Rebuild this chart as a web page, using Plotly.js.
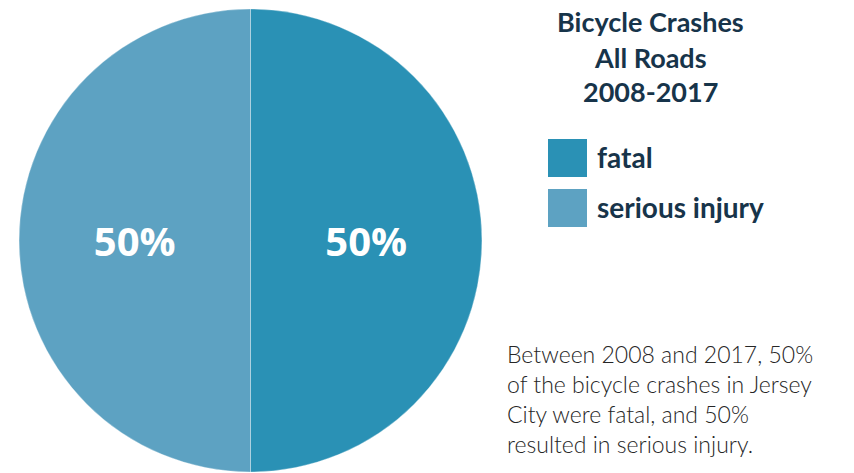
<!DOCTYPE html>
<html>
<head>
<meta charset="utf-8">
<script src="https://cdn.plot.ly/plotly-3.0.1.min.js"></script>
<style>html,body{margin:0;padding:0;background:#fff;}#chart{width:854px;height:473px;}</style>
</head>
<body>
<div id="chart"></div>
<script>
const categories = ['fatal', 'serious injury'];
const values = [50, 50];
const colors = ['#2A91B5', '#5DA2C2'];
const titleLines = ['Bicycle Crashes', 'All Roads', '2008-2017'];
const noteText = ['Between 2008 and 2017, 50%', 'of the bicycle crashes in Jersey', 'City were fatal, and 50%', 'resulted in serious injury.'];

const navy = '#17344A';
const W = 854, H = 473;

const trace = {
  type: 'pie',
  labels: categories,
  values: values,
  sort: false,
  direction: 'clockwise',
  rotation: 0,
  marker: {colors: colors, line: {color: 'rgba(255,255,255,0.3)', width: 1}},
  textinfo: 'percent',
  textposition: 'inside',
  insidetextorientation: 'horizontal',
  textfont: {family: 'Open Sans, sans-serif', size: 40, color: '#ffffff', weight: 700},
  hoverinfo: 'label+percent',
  showlegend: false,
  domain: {x: [17 / W, 484 / W], y: [1 / H, 464 / H]}
};

const annotations = [];
const titleY = [22, 57, 92];
titleLines.forEach((t, i) => {
  annotations.push({
    text: '<b>' + t + '</b>', xref: 'paper', yref: 'paper',
    x: 650 / W, y: 1 - titleY[i] / H, xanchor: 'center', yanchor: 'middle',
    showarrow: false, font: {family: 'Lato, sans-serif', size: 27, color: navy}
  });
});

const shapes = [];
categories.forEach((c, i) => {
  const top = 139 + i * 50;
  shapes.push({
    type: 'rect', xref: 'paper', yref: 'paper',
    x0: 548 / W, x1: 587 / W, y0: 1 - (top + 38) / H, y1: 1 - top / H,
    fillcolor: colors[i], line: {width: 0}
  });
  annotations.push({
    text: '<b>' + c + '</b>', xref: 'paper', yref: 'paper',
    x: 595 / W, y: 1 - (top + 18) / H, xanchor: 'left', yanchor: 'middle',
    showarrow: false, font: {family: 'Lato, sans-serif', size: 28, color: navy}
  });
});

annotations.push({
  text: noteText.join('<br>'), xref: 'paper', yref: 'paper',
  x: 505 / W, y: 1 - 338 / H, xanchor: 'left', yanchor: 'top', align: 'left',
  showarrow: false, font: {family: 'Lato, sans-serif', size: 23, color: '#262626', weight: 300}
});

const layout = {
  width: W, height: H,
  margin: {l: 0, r: 0, t: 0, b: 0},
  paper_bgcolor: '#ffffff',
  showlegend: false,
  annotations: annotations,
  shapes: shapes
};

Plotly.newPlot('chart', [trace], layout, {displayModeBar: false, staticPlot: true});
</script>
</body>
</html>
